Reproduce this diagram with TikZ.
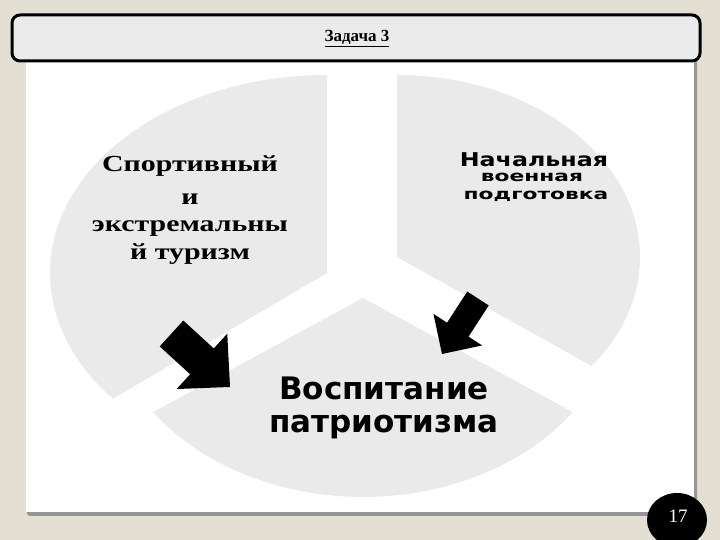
\documentclass[tikz,border=0pt]{standalone}
\usepackage{fontspec}
\setmainfont{Liberation Serif}
\newfontfamily\wideserif[FakeStretch=1.3]{Liberation Serif}
\newfontfamily\dvs{DejaVu Sans}
\newfontfamily\widedvs[FakeStretch=1.25]{DejaVu Sans}
\newfontfamily\widerdvs[FakeStretch=1.45]{DejaVu Sans}
\usetikzlibrary{calc}
\definecolor{bgbeige}{RGB}{228,223,211}
\definecolor{piegray}{RGB}{234,234,234}
\definecolor{headgray}{RGB}{235,235,235}
\definecolor{shadowgray}{RGB}{150,150,150}
\definecolor{panelline}{RGB}{215,228,240}
\newcommand{\myblockarrow}[5]{% tail, tip, shaft half width, head half width, head length
  \coordinate (#2-base) at ($(#2)!#5!(#1)$);
  \fill[black] ($(#1)!#3!90:(#2)$) -- ($(#2-base)!#3!90:(#2)$) -- ($(#2-base)!#4!90:(#2)$)
    -- (#2) -- ($(#2-base)!#4!-90:(#2)$) -- ($(#2-base)!#3!-90:(#2)$) -- ($(#1)!#3!-90:(#2)$) -- cycle;
}
\begin{document}
\begin{tikzpicture}[x=1pt,y=1pt,
  sector/.style={fill=piegray},
  sertext/.style={anchor=base, inner sep=0pt, font=\wideserif\bfseries\fontsize{23}{29}\selectfont},
  smalltext/.style={anchor=base, inner sep=0pt, font=\widerdvs\bfseries\fontsize{15}{18}\selectfont},
  bigtext/.style={anchor=base, inner sep=0pt, font=\dvs\bfseries\fontsize{31}{35}\selectfont}]
\useasboundingbox (0,0) rectangle (720,540);
\clip (0,0) rectangle (720,540);
\fill[bgbeige] (0,0) rectangle (720,540);
% panel
\fill[shadowgray, rounded corners=3pt] (27,24) rectangle (697,482);
\fill[white] (25,28) rectangle (694,485);
\draw[panelline, line width=1pt] (25.5,28) -- (25.5,485);
% sectors
\fill[sector] (327,267) -- (327,465) arc[start angle=90,end angle=219.4,x radius=277,y radius=198] -- cycle;
\fill[sector] (397,283) -- (397,465) arc[start angle=90,end angle=-36.8,x radius=243,y radius=182] -- cycle;
\fill[sector] (363,242) -- (153.3,127.9) arc[start angle=215,end angle=325,x radius=256,y radius=199] -- cycle;
% arrows
\coordinate (lA) at (171.5,206.5);
\coordinate (lB) at (230,153);
\myblockarrow{lA}{lB}{17.5pt}{37.5pt}{38pt}
\coordinate (rA) at (478,241.5);
\coordinate (rB) at (442,186);
\myblockarrow{rA}{rB}{12.8pt}{29pt}{29pt}
% texts
\node[sertext] (s1) at (190,368) {Спортивный};
\node[sertext] (s2) at (190,335) {и};
\node[sertext] (s3) at (190,308) {экстремальны};
\node[sertext] (s4) at (190,280) {й туризм};
\node[anchor=base, inner sep=0pt, font=\widedvs\bfseries\fontsize{19}{22}\selectfont] (n1) at (534,373) {Начальная};
\node[smalltext] (n2) at (532,358) {военная};
\node[smalltext] (n3) at (536,340) {подготовка};
\node[bigtext] (v1) at (384,140) {Воспитание};
\node[bigtext] (v2) at (384,107) {патриотизма};
% header
\draw[line width=3pt, fill=headgray, rounded corners=8pt] (12,479) rectangle (700,525);
\node[anchor=base, inner sep=0pt, font=\bfseries\fontsize{17}{20}\selectfont] (title) at (357,498) {\underline{Задача 3}};
% page number
\fill[black] (677,20) ellipse[x radius=30,y radius=27];
\node[anchor=base, inner sep=0pt, text=white, font=\fontsize{19}{22}\selectfont] (pg) at (678,17) {17};
\end{tikzpicture}
\end{document}
